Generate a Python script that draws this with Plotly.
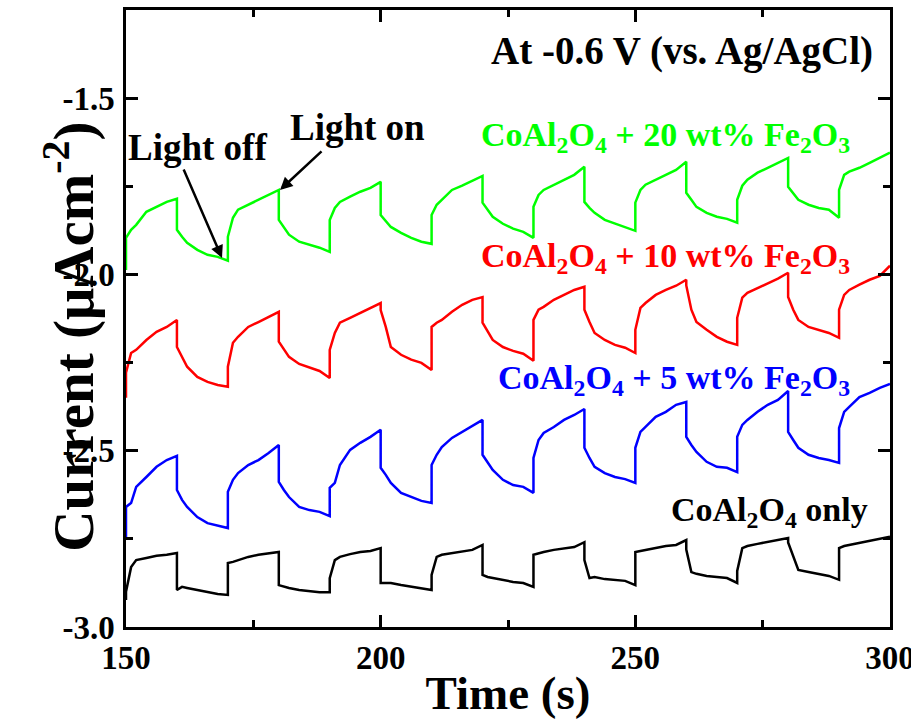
import plotly.graph_objects as go

# Time grid (s): duplicate entries mark the light on/off switching instants
time_s = [150, 150, 151, 152, 154, 156, 158,
          160, 160, 161, 162, 164, 166, 168,
          170, 170, 171, 172, 174, 176, 178,
          180, 180, 181, 182, 184, 186, 188,
          190, 190, 191, 192, 194, 196, 198,
          200, 200, 201, 202, 204, 206, 208,
          210, 210, 211, 212, 214, 216, 218,
          220, 220, 221, 222, 224, 226, 228,
          230, 230, 231, 232, 234, 236, 238,
          240, 240, 241, 242, 244, 246, 248,
          250, 250, 251, 252, 254, 256, 258,
          260, 260, 261, 262, 264, 266, 268,
          270, 270, 271, 272, 274, 276, 278,
          280, 280, 281, 282, 284, 286, 288,
          290, 290, 291, 292, 294, 296, 298,
          300]

fe20 = [-1.986, -1.895, -1.872, -1.858, -1.821, -1.807, -1.793,
        -1.784, -1.872, -1.892, -1.909, -1.929, -1.943, -1.949,
        -1.960, -1.892, -1.838, -1.815, -1.801, -1.787, -1.773,
        -1.759, -1.844, -1.866, -1.886, -1.906, -1.915, -1.923,
        -1.935, -1.844, -1.810, -1.793, -1.778, -1.764, -1.753,
        -1.736, -1.830, -1.847, -1.864, -1.881, -1.895, -1.906,
        -1.912, -1.830, -1.801, -1.787, -1.759, -1.747, -1.733,
        -1.719, -1.795, -1.815, -1.835, -1.855, -1.869, -1.878,
        -1.895, -1.807, -1.773, -1.759, -1.744, -1.730, -1.716,
        -1.693, -1.793, -1.810, -1.824, -1.844, -1.855, -1.864,
        -1.875, -1.795, -1.759, -1.744, -1.730, -1.716, -1.702,
        -1.679, -1.767, -1.787, -1.807, -1.824, -1.835, -1.841,
        -1.852, -1.787, -1.747, -1.730, -1.710, -1.696, -1.682,
        -1.668, -1.750, -1.767, -1.787, -1.801, -1.810, -1.815,
        -1.838, -1.759, -1.716, -1.707, -1.696, -1.682, -1.668,
        -1.653]

fe10 = [-2.349, -2.278, -2.222, -2.213, -2.185, -2.162, -2.148,
        -2.128, -2.205, -2.233, -2.261, -2.290, -2.304, -2.313,
        -2.318, -2.261, -2.193, -2.176, -2.148, -2.134, -2.119,
        -2.105, -2.190, -2.213, -2.233, -2.253, -2.264, -2.273,
        -2.293, -2.213, -2.165, -2.136, -2.122, -2.108, -2.094,
        -2.080, -2.100, -2.148, -2.205, -2.227, -2.241, -2.250,
        -2.270, -2.148, -2.136, -2.128, -2.105, -2.085, -2.071,
        -2.063, -2.136, -2.162, -2.185, -2.205, -2.216, -2.224,
        -2.244, -2.128, -2.099, -2.091, -2.071, -2.057, -2.043,
        -2.034, -2.099, -2.134, -2.165, -2.185, -2.199, -2.207,
        -2.222, -2.156, -2.094, -2.080, -2.057, -2.043, -2.031,
        -2.014, -2.030, -2.099, -2.134, -2.156, -2.176, -2.190,
        -2.199, -2.122, -2.065, -2.051, -2.037, -2.023, -2.011,
        -1.994, -2.063, -2.099, -2.128, -2.148, -2.156, -2.165,
        -2.179, -2.099, -2.057, -2.043, -2.028, -2.014, -2.003,
        -1.974]

fe5 = [-2.753, -2.659, -2.648, -2.602, -2.574, -2.545, -2.526,
       -2.514, -2.611, -2.639, -2.659, -2.688, -2.705, -2.713,
       -2.719, -2.616, -2.582, -2.563, -2.540, -2.526, -2.506,
       -2.483, -2.588, -2.611, -2.631, -2.659, -2.668, -2.673,
       -2.685, -2.605, -2.591, -2.540, -2.497, -2.477, -2.460,
       -2.440, -2.548, -2.568, -2.591, -2.619, -2.631, -2.642,
       -2.648, -2.540, -2.511, -2.489, -2.463, -2.446, -2.429,
       -2.412, -2.511, -2.531, -2.554, -2.582, -2.597, -2.602,
       -2.619, -2.520, -2.469, -2.449, -2.432, -2.412, -2.398,
       -2.381, -2.491, -2.520, -2.545, -2.563, -2.574, -2.580,
       -2.591, -2.491, -2.446, -2.432, -2.403, -2.389, -2.369,
       -2.361, -2.460, -2.483, -2.503, -2.531, -2.545, -2.548,
       -2.560, -2.460, -2.426, -2.412, -2.389, -2.369, -2.355,
       -2.330, -2.446, -2.469, -2.491, -2.511, -2.520, -2.526,
       -2.534, -2.435, -2.389, -2.375, -2.347, -2.335, -2.321,
       -2.310]

only = [-2.923, -2.900, -2.830, -2.810, -2.804, -2.798, -2.795,
        -2.790, -2.895, -2.886, -2.889, -2.895, -2.901, -2.906,
        -2.909, -2.818, -2.815, -2.810, -2.801, -2.795, -2.790,
        -2.787, -2.881, -2.886, -2.889, -2.895, -2.898, -2.901,
        -2.901, -2.861, -2.810, -2.801, -2.793, -2.787, -2.784,
        -2.776, -2.875, -2.875, -2.875, -2.881, -2.886, -2.889,
        -2.895, -2.852, -2.801, -2.795, -2.790, -2.784, -2.781,
        -2.767, -2.852, -2.858, -2.861, -2.866, -2.872, -2.875,
        -2.886, -2.795, -2.790, -2.787, -2.781, -2.776, -2.773,
        -2.759, -2.810, -2.861, -2.858, -2.864, -2.866, -2.869,
        -2.881, -2.787, -2.784, -2.781, -2.776, -2.770, -2.767,
        -2.753, -2.780, -2.844, -2.849, -2.855, -2.858, -2.861,
        -2.875, -2.841, -2.776, -2.770, -2.764, -2.759, -2.753,
        -2.747, -2.760, -2.800, -2.838, -2.844, -2.849, -2.855,
        -2.866, -2.776, -2.770, -2.767, -2.761, -2.756, -2.750,
        -2.744]

x_ticks = [150, 200, 250, 300]
x_tick_text = ["150", "200", "250", "300"]
y_ticks = [-3.0, -2.5, -2.0, -1.5]
y_tick_text = ["-3.0", "-2.5", "-2.0", "-1.5"]

FONT = "Liberation Serif"

fig = go.Figure()
series = [
    (fe20, "#00FF00", "CoAl<sub>2</sub>O<sub>4</sub> + 20 wt% Fe<sub>2</sub>O<sub>3</sub>"),
    (fe10, "#FF0000", "CoAl<sub>2</sub>O<sub>4</sub> + 10 wt% Fe<sub>2</sub>O<sub>3</sub>"),
    (fe5, "#0000FF", "CoAl<sub>2</sub>O<sub>4</sub> + 5 wt% Fe<sub>2</sub>O<sub>3</sub>"),
    (only, "#000000", "CoAl<sub>2</sub>O<sub>4</sub> only"),
]
for vals, col, name in series:
    fig.add_trace(go.Scatter(x=time_s, y=vals, mode="lines", name=name,
                             line=dict(color=col, width=2.5), showlegend=False))

axis_common = dict(
    showline=True, linecolor="black", linewidth=2.5, mirror="ticks",
    ticks="inside", ticklen=12, tickwidth=2.5, tickcolor="black",
    showgrid=False, zeroline=False, ticklabeloverflow="allow", automargin=False,
    tickfont=dict(family=FONT, size=33, color="black", weight="bold"),
)

fig.update_xaxes(**axis_common, range=[150, 300], tickvals=x_ticks, ticktext=x_tick_text,
                 minor=dict(ticks="inside", ticklen=7, tickwidth=2.5, tickcolor="black", dtick=25, tick0=150, showgrid=False),
                 ticklabelstandoff=0,
                 title=dict(text="Time (s)", font=dict(family=FONT, size=47, color="black", weight="bold"), standoff=12))
fig.update_yaxes(**axis_common, range=[-3.0, -1.248], tickvals=y_ticks, ticktext=y_tick_text,
                 minor=dict(ticks="inside", ticklen=7, tickwidth=2.5, tickcolor="black", dtick=0.25, tick0=-3.0, showgrid=False),
                 ticklabelstandoff=2)

def label(text, x, y, color, size=34, xanchor="right"):
    fig.add_annotation(x=x, y=y, xref="x", yref="y", text=text, showarrow=False,
                       xanchor=xanchor, yanchor="middle",
                       font=dict(family=FONT, size=size, color=color, weight="bold"))

label("At -0.6 V (vs. Ag/AgCl)", 297.1, -1.365, "black", size=39)
label(series[0][2], 292.5, -1.608, "#00FF00")
label(series[1][2], 292.5, -1.952, "#FF0000")
label(series[2][2], 292.5, -2.298, "#0000FF")
label(series[3][2], 296.0, -2.673, "black")
label("Light off", 164.1, -1.639, "black", size=37, xanchor="center")
label("Light on", 195.4, -1.582, "black", size=37, xanchor="center")

# arrows
fig.add_annotation(x=168.85, y=-1.952, xref="x", yref="y", text="", showarrow=True,
                   ax=-39, ay=-90, arrowhead=2, arrowsize=1, arrowwidth=2.5, arrowcolor="black", standoff=0)
fig.add_annotation(x=180.24, y=-1.759, xref="x", yref="y", text="", showarrow=True,
                   ax=43, ay=-40, arrowhead=2, arrowsize=1, arrowwidth=2.5, arrowcolor="black", standoff=0)

# y-axis title (overlapping tick labels as in the original)
fig.add_annotation(x=-0.075, y=0.47, xref="paper", yref="paper",
                   text="Current (μAcm<sup>-2</sup>)", showarrow=False, textangle=-90,
                   xanchor="center", yanchor="middle",
                   font=dict(family=FONT, size=57, color="black", weight="bold"))

fig.update_layout(width=911, height=719, margin=dict(l=126, r=21, t=10, b=92),
                  plot_bgcolor="white", paper_bgcolor="white")

fig.write_html("out.html")
